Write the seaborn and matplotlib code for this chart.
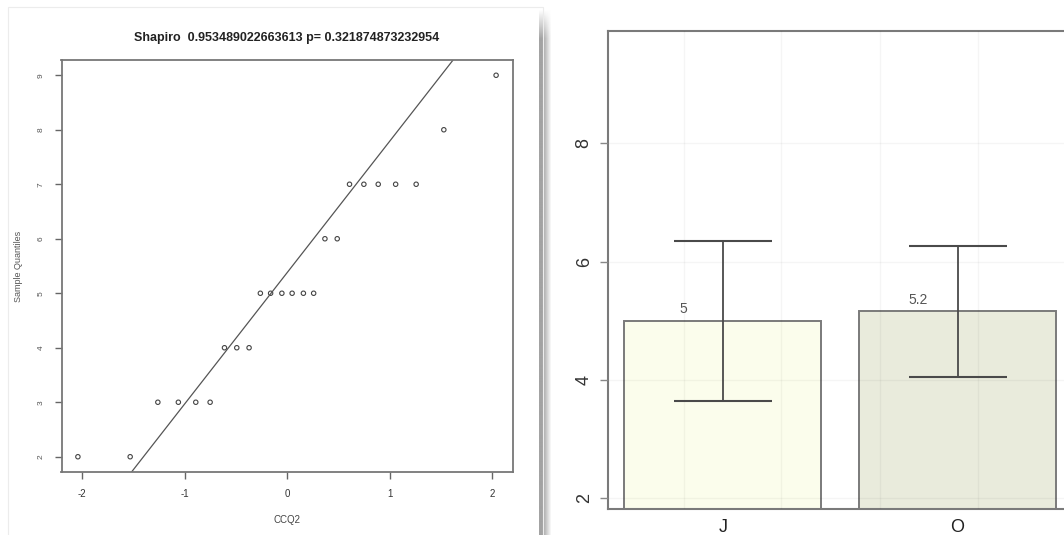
import numpy as np
import pandas as pd
import matplotlib
matplotlib.use("Agg")
import matplotlib.pyplot as plt
import seaborn as sns

# ---------------- data ----------------
# Left panel: normal Q-Q plot of CCQ2
theoretical_q = [-2.04, -1.53, -1.26, -1.06, -0.89, -0.75, -0.61, -0.49, -0.37, -0.26, -0.16, -0.05,
                 0.05, 0.16, 0.26, 0.37, 0.49, 0.61, 0.75, 0.89, 1.06, 1.26, 1.53, 2.04]
sample_q = [2, 2, 3, 3, 3, 3, 4, 4, 4, 5, 5, 5, 5, 5, 5, 6, 6, 7, 7, 7, 7, 7, 8, 9]
qq_line_intercept = 5.375
qq_line_slope = 2.41
qq_title = "Shapiro  0.953489022663613 p= 0.321874873232954"
qq_xlabel = "CCQ2"
qq_ylabel = "Sample Quantiles"
qq_xticks = [-2, -1, 0, 1, 2]
qq_yticks = [2, 3, 4, 5, 6, 7, 8, 9]

# Right panel: group means with error bars
groups = ["J", "O"]
means = [5.0, 5.16]
errors = [1.35, 1.11]
mean_labels = ["5", "5.2"]
bar_yticks = [2, 4, 6, 8]
bar_colors = ["#fbfdec", "#e9ebdc"]

# ---------------- style ----------------
sns.set_theme(style="white")
plt.rcParams["font.family"] = ["Liberation Sans", "DejaVu Sans"]

W, H = 1064, 535
fig = plt.figure(figsize=(W / 100, H / 100), dpi=100)
fig.patch.set_facecolor("white")

# faint border of the left screenshot panel
fig.add_artist(plt.Rectangle((8 / W, -0.01), 535 / W, 1.01 - 7 / H, transform=fig.transFigure,
                             fill=False, edgecolor="#ececec", lw=0.8))

# ---------------- left: Q-Q plot ----------------
ax1 = fig.add_axes([61.5 / W, 63 / H, 451 / W, 412 / H])
sns.scatterplot(x=theoretical_q, y=sample_q, ax=ax1, s=10, linewidth=0.8)
pts = ax1.collections[0]
pts.set_facecolor("none")
pts.set_edgecolor("#444444")
ax1.axline((0, qq_line_intercept), slope=qq_line_slope, color="#555555", lw=0.9)
ax1.set_xlim(-2.2, 2.2)
ax1.set_ylim(1.72, 9.28)
ax1.set_xticks(qq_xticks)
ax1.set_xticklabels([str(t) for t in qq_xticks], fontsize=7, color="#333333")
ax1.set_yticks(qq_yticks)
ax1.set_yticklabels([str(t) for t in qq_yticks], fontsize=6, color="#555555",
                    rotation=90, va="center")
ax1.tick_params(axis="both", which="major", length=5, width=1, color="#666666",
                bottom=True, left=True, pad=7)
for sp in ax1.spines.values():
    sp.set_color("#777777")
    sp.set_linewidth(1.3)
ax1.set_title(qq_title, fontsize=9, fontweight="bold", color="#222222", pad=14)
ax1.set_xlabel(qq_xlabel, fontsize=7, color="#444444", labelpad=12)
ax1.set_ylabel(qq_ylabel, fontsize=6.5, color="#555555", labelpad=11)

# ---------------- separator shadow ----------------
ax_sh = fig.add_axes([539 / W, 0, 13 / W, 527 / H])
cols = np.concatenate([np.full(5, 0.64), np.linspace(0.7, 1.0, 8)])
rows = np.concatenate([np.linspace(1.0, 0.0, 8), np.zeros(120)])
grad = cols[None, :] + (1 - cols[None, :]) * rows[:, None]
ax_sh.imshow(grad, cmap="gray", vmin=0, vmax=1, aspect="auto", interpolation="bilinear")
ax_sh.axis("off")

# ---------------- right: bar chart ----------------
ax2 = fig.add_axes([608 / W, 26 / H, 472 / W, 477.6 / H])
df = pd.DataFrame({"group": groups, "mean": means})
sns.barplot(data=df, x="group", y="mean", hue="group", palette=bar_colors, width=0.84,
            saturation=1, edgecolor="#7a7a7a", linewidth=1.4, legend=False, ax=ax2, zorder=1)
xpos = np.arange(len(groups))
ax2.errorbar(xpos, means, yerr=errors, fmt="none", ecolor="#4a4a4a", elinewidth=1.3,
             capsize=35, capthick=1.5, zorder=3)
for i, (m, lab) in enumerate(zip(means, mean_labels)):
    ax2.text(xpos[i] - 0.17, m + 0.08, lab, ha="center", va="bottom", fontsize=10,
             color="#555555", zorder=4)
ax2.set_xlim(-0.49, 1.522)
ax2.set_ylim(1.82, 9.89)
ax2.set_yticks(bar_yticks)
ax2.set_yticklabels([str(t) for t in bar_yticks], fontsize=13, color="#333333",
                    rotation=90, va="center")
ax2.set_xticks(xpos)
ax2.set_xticklabels(groups, fontsize=13, color="#222222")
ax2.set_xticks([-0.166, 0.247, 0.670, 1.087], minor=True)
ax2.tick_params(axis="y", which="major", length=6, width=1, color="#888888", left=True, pad=5)
ax2.tick_params(axis="x", which="both", length=0, pad=7)
ax2.set_xlabel("")
ax2.set_ylabel("")
ax2.grid(True, axis="y", which="major", color="#000000", alpha=0.04, lw=1)
ax2.grid(True, axis="x", which="minor", color="#000000", alpha=0.04, lw=1)
ax2.set_axisbelow(False)
for sp in ax2.spines.values():
    sp.set_color("#7a7a7a")
    sp.set_linewidth(1.5)

fig.savefig("out.png", dpi=100, facecolor="white")
